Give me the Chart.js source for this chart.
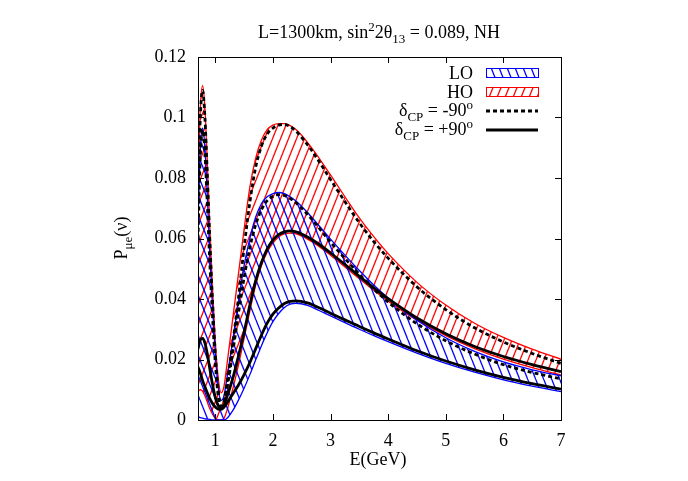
<!DOCTYPE html>
<html>
<head>
<meta charset="utf-8">
<script src="https://cdn.jsdelivr.net/npm/chart.js@4.4.0/dist/chart.umd.min.js"></script>
<style>
    body { margin: 0; background: #fff; }
    #wrap { width: 688px; height: 481px; }
</style>
</head>
<body>
<div id="wrap"><canvas id="prob" width="688" height="481"></canvas></div>
<script>
// E (GeV) grid shared by every curve
const energy = [0.70, 0.74, 0.78, 0.82, 0.86, 0.90, 0.95, 1.00, 1.05, 1.10, 1.15, 1.20, 1.30, 1.40, 1.50,
    1.60, 1.70, 1.80, 1.90, 2.00, 2.10, 2.20, 2.30, 2.40, 2.60, 2.80, 3.00, 3.25, 3.50, 3.75, 4.00,
    4.50, 5.00, 5.50, 6.00, 6.50, 7.00];

// HO band edges
const hoMax = [0.076, 0.103, 0.1105, 0.103, 0.086, 0.066, 0.044, 0.026, 0.014, 0.009, 0.011, 0.018, 0.033, 0.048, 0.063,
    0.077, 0.0865, 0.0925, 0.096, 0.0975, 0.098, 0.098, 0.0973, 0.096, 0.0918, 0.0866, 0.0810, 0.0738, 0.0668, 0.0606, 0.0550,
    0.0455, 0.0380, 0.0320, 0.0273, 0.0234, 0.0201];
const hoMin = [0.0095, 0.010, 0.0095, 0.008, 0.006, 0.004, 0.002, 0.0005, 0.0, 0.0, 0.0005, 0.003, 0.010, 0.018, 0.027,
    0.036, 0.0445, 0.051, 0.0555, 0.0585, 0.0605, 0.0615, 0.0618, 0.0615, 0.0598, 0.0574, 0.0545, 0.0506, 0.0467, 0.0429, 0.0393,
    0.0330, 0.0279, 0.0236, 0.0201, 0.0173, 0.0149];

// LO band edges
const loMax = [0.065, 0.089, 0.0965, 0.090, 0.075, 0.057, 0.038, 0.022, 0.011, 0.0065, 0.008, 0.0135, 0.026, 0.039, 0.051,
    0.060, 0.067, 0.0715, 0.0738, 0.0748, 0.0752, 0.0748, 0.0738, 0.0724, 0.0686, 0.0642, 0.0598, 0.0545, 0.0494, 0.0446, 0.0403,
    0.0330, 0.0272, 0.0227, 0.0192, 0.0166, 0.0146];
const loMin = [0.001, 0.0008, 0.0006, 0.0004, 0.0003, 0.0002, 0.0, 0.0, 0.0, 0.0, 0.0, 0.0005, 0.003, 0.0065, 0.0105,
    0.015, 0.0198, 0.0245, 0.0288, 0.0325, 0.0352, 0.0372, 0.0383, 0.0386, 0.0379, 0.0362, 0.0344, 0.0322, 0.0300, 0.0279, 0.0259,
    0.0221, 0.0187, 0.0158, 0.0133, 0.0112, 0.0094];

// delta_CP curves
const hoMinus90 = [0.072, 0.100, 0.109, 0.100, 0.082, 0.062, 0.040, 0.022, 0.010, 0.0045, 0.006, 0.012, 0.025, 0.040, 0.057,
    0.072, 0.0835, 0.0905, 0.0945, 0.0965, 0.0975, 0.0977, 0.097, 0.0955, 0.091, 0.0855, 0.0795, 0.0722, 0.0652, 0.0590, 0.0535,
    0.0440, 0.0365, 0.0305, 0.0258, 0.0220, 0.0187];
const loMinus90 = [0.060, 0.087, 0.096, 0.088, 0.072, 0.054, 0.035, 0.019, 0.008, 0.0035, 0.005, 0.010, 0.022, 0.035, 0.047,
    0.057, 0.0645, 0.0695, 0.0725, 0.074, 0.0745, 0.0742, 0.0732, 0.0718, 0.068, 0.0635, 0.0588, 0.0534, 0.0482, 0.0433, 0.0390,
    0.0318, 0.0262, 0.0218, 0.0183, 0.0157, 0.0136];
const hoPlus90 = [0.0235, 0.0265, 0.027, 0.0255, 0.022, 0.0175, 0.012, 0.0075, 0.0048, 0.004, 0.0048, 0.0075, 0.0135, 0.021, 0.029,
    0.038, 0.046, 0.052, 0.0565, 0.0595, 0.0613, 0.0622, 0.0625, 0.0622, 0.0605, 0.0581, 0.0552, 0.0514, 0.0475, 0.0437, 0.0401,
    0.0337, 0.0285, 0.0243, 0.0210, 0.0183, 0.0160];
const loPlus90 = [0.0175, 0.0155, 0.013, 0.011, 0.009, 0.0072, 0.0055, 0.0043, 0.0036, 0.0035, 0.0042, 0.0055, 0.0085, 0.0115, 0.015,
    0.019, 0.0235, 0.028, 0.032, 0.035, 0.037, 0.0385, 0.0392, 0.0394, 0.0387, 0.0371, 0.0353, 0.0331, 0.0309, 0.0288, 0.0268,
    0.0229, 0.0195, 0.0166, 0.0141, 0.0120, 0.0102];

const xTicks = [1, 2, 3, 4, 5, 6, 7];
const yTicks = [0, 0.02, 0.04, 0.06, 0.08, 0.1, 0.12];

const FONT = '"Liberation Serif", "DejaVu Serif", serif';

function pts(values) {
    return energy.map((e, i) => ({ x: e, y: values[i] }));
}

function makeHatch(color, rising) {
    const c = document.createElement('canvas');
    c.width = 8;
    c.height = 20;
    const g = c.getContext('2d');
    g.strokeStyle = color;
    g.lineWidth = 1.3;
    [-8, 0, 8].forEach(off => {
        g.beginPath();
        if (rising) {
            g.moveTo(off, 20);
            g.lineTo(off + 8, 0);
        } else {
            g.moveTo(off, 0);
            g.lineTo(off + 8, 20);
        }
        g.stroke();
    });
    return g.createPattern(c, 'repeat');
}

const redHatch = makeHatch('#ff0000', true);
const blueHatch = makeHatch('#0000ff', false);

// text with sub/superscripts: parts = [[text, level]], level 1 = sup, -1 = sub
function drawRich(ctx, parts, x, y, align) {
    const big = 18, small = 13;
    let total = 0;
    parts.forEach(p => {
        ctx.font = (p[1] ? small : big) + 'px ' + FONT;
        total += ctx.measureText(p[0]).width;
    });
    let cx = align === 'right' ? x - total : align === 'center' ? x - total / 2 : x;
    ctx.textAlign = 'left';
    ctx.textBaseline = 'alphabetic';
    parts.forEach(p => {
        ctx.font = (p[1] ? small : big) + 'px ' + FONT;
        const dy = p[1] === 1 ? -7 : p[1] === -1 ? 5 : 0;
        ctx.fillText(p[0], cx, y + dy);
        cx += ctx.measureText(p[0]).width;
    });
}

const decorPlugin = {
    id: 'decor',
    afterDraw(chart) {
        const ctx = chart.ctx;
        const a = chart.chartArea;
        const xs = chart.scales.x, ys = chart.scales.y;
        ctx.save();
        ctx.fillStyle = '#000';
        ctx.strokeStyle = '#000';
        ctx.lineWidth = 1;

        // frame and inward ticks
        ctx.strokeRect(a.left + 0.5, a.top + 0.5, a.right - a.left, a.bottom - a.top);
        ctx.beginPath();
        xTicks.forEach(v => {
            const px = Math.round(xs.getPixelForValue(v)) + 0.5;
            ctx.moveTo(px, a.bottom); ctx.lineTo(px, a.bottom - 6);
            ctx.moveTo(px, a.top); ctx.lineTo(px, a.top + 6);
        });
        yTicks.forEach(v => {
            const py = Math.round(ys.getPixelForValue(v)) + 0.5;
            ctx.moveTo(a.left, py); ctx.lineTo(a.left + 6, py);
            ctx.moveTo(a.right, py); ctx.lineTo(a.right - 6, py);
        });
        ctx.stroke();

        // title and axis titles
        drawRich(ctx, [['L=1300km, sin', 0], ['2', 1], ['2\u03b8', 0], ['13', -1], [' = 0.089, NH', 0]], 379, 38, 'center');
        drawRich(ctx, [['E(GeV)', 0]], 378, 465, 'center');
        ctx.save();
        ctx.translate(127, 238);
        ctx.rotate(-Math.PI / 2);
        drawRich(ctx, [['P', 0], ['\u03bce', -1], ['(\u03bd)', 0]], 0, 0, 'center');
        ctx.restore();

        // legend
        const boxL = 486, boxR = 538;
        drawRich(ctx, [['LO', 0]], 473, 79, 'right');
        drawRich(ctx, [['HO', 0]], 473, 98, 'right');
        drawRich(ctx, [['\u03b4', 0], ['CP', -1], [' = -90', 0], ['o', 1]], 473, 116, 'right');
        drawRich(ctx, [['\u03b4', 0], ['CP', -1], [' = +90', 0], ['o', 1]], 473, 135, 'right');

        ctx.lineWidth = 1;
        ctx.fillStyle = blueHatch;
        ctx.fillRect(boxL, 68, boxR - boxL, 9);
        ctx.strokeStyle = '#0000ff';
        ctx.strokeRect(boxL + 0.5, 68.5, boxR - boxL, 9);
        ctx.fillStyle = redHatch;
        ctx.fillRect(boxL, 87, boxR - boxL, 9);
        ctx.strokeStyle = '#ff0000';
        ctx.strokeRect(boxL + 0.5, 87.5, boxR - boxL, 9);

        ctx.strokeStyle = '#000';
        ctx.lineWidth = 2.8;
        ctx.setLineDash([4, 3]);
        ctx.beginPath(); ctx.moveTo(boxL, 111); ctx.lineTo(boxR, 111); ctx.stroke();
        ctx.setLineDash([]);
        ctx.beginPath(); ctx.moveTo(boxL, 130); ctx.lineTo(boxR, 130); ctx.stroke();
        ctx.restore();
    }
};

const bandEdge = (label, values, color, fill, order) => ({
    label: label,
    data: pts(values),
    borderColor: color,
    borderWidth: 1.3,
    backgroundColor: fill || 'transparent',
    fill: fill ? '-1' : false,
    pointRadius: 0,
    cubicInterpolationMode: 'monotone',
    order: order
});

const curve = (label, values, dashed) => ({
    label: label,
    data: pts(values),
    borderColor: '#000',
    borderWidth: 2.8,
    borderDash: dashed ? [4, 3] : [],
    fill: false,
    pointRadius: 0,
    cubicInterpolationMode: 'monotone',
    order: 0
});

new Chart(document.getElementById('prob'), {
    type: 'line',
    data: {
        datasets: [
            bandEdge('HO min', hoMin, '#ff0000', null, 3),
            bandEdge('HO', hoMax, '#ff0000', redHatch, 3),
            bandEdge('LO min', loMin, '#0000ff', null, 2),
            bandEdge('LO', loMax, '#0000ff', blueHatch, 2),
            curve('LO +90', loPlus90, false),
            curve('HO +90', hoPlus90, false),
            curve('LO -90', loMinus90, true),
            curve('HO -90', hoMinus90, true)
        ]
    },
    options: {
        responsive: false,
        animation: false,
        layout: { padding: { left: 0, right: 127, top: 57, bottom: 0 } },
        plugins: { legend: { display: false }, tooltip: { enabled: false } },
        scales: {
            x: {
                type: 'linear',
                min: 0.7,
                max: 7,
                grid: { display: false, drawTicks: false },
                border: { display: false },
                afterBuildTicks: s => { s.ticks = xTicks.map(v => ({ value: v })); },
                afterFit: s => { s.height = 61; },
                ticks: { color: '#000', padding: 10, font: { family: FONT, size: 18 } }
            },
            y: {
                min: 0,
                max: 0.12,
                grid: { display: false, drawTicks: false },
                border: { display: false },
                afterBuildTicks: s => { s.ticks = yTicks.map(v => ({ value: v })); },
                afterFit: s => { s.width = 198; },
                ticks: {
                    color: '#000',
                    padding: 12,
                    font: { family: FONT, size: 18 },
                    callback: v => String(+v.toFixed(2))
                }
            }
        }
    },
    plugins: [decorPlugin]
});
</script>
</body>
</html>
